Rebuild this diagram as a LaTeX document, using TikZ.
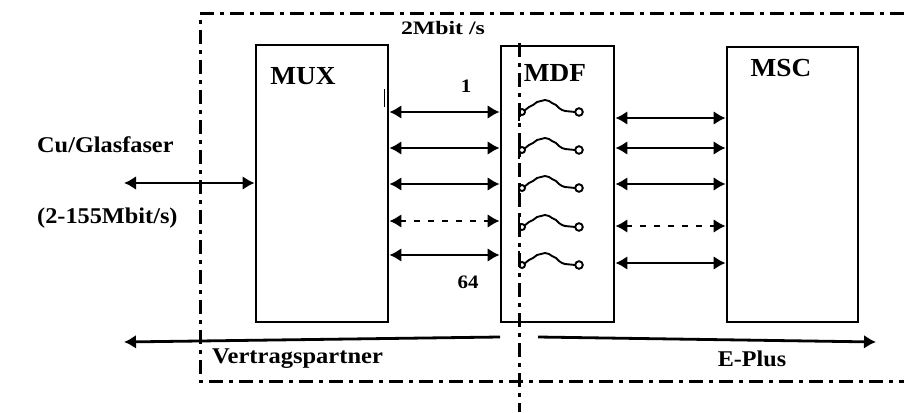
\documentclass[tikz,border=0pt]{standalone}
\usepackage{fontspec}
\setmainfont{Liberation Serif}
\usetikzlibrary{arrows.meta}
\newcommand\wide[2]{\scalebox{#1}[1]{#2}}
\tikzset{
  box/.style={draw, line width=2.8pt, rectangle, inner sep=0pt},
  title/.style={font=\fontsize{26}{28}\selectfont\bfseries, inner sep=0pt},
  lbl/.style={font=\fontsize{22.5}{24}\selectfont\bfseries, inner sep=0pt},
  small/.style={font=\fontsize{19}{21}\selectfont\bfseries, inner sep=0pt},
  dbl/.style={line width=2.8pt, {Latex[length=12pt,width=14pt]}-{Latex[length=12pt,width=14pt]}},
  dbldash/.style={dbl, dash pattern=on 6pt off 8pt},
  frame/.style={line width=3pt, dash pattern=on 14pt off 6pt on 4pt off 6pt},
  sw/.style={line width=1.9pt},
}
\begin{document}
\begin{tikzpicture}[x=1pt,y=-1pt]
\useasboundingbox (0,0) rectangle (904,412);
% frame
\draw[frame] (904,14) -- (200,14) -- (200,381) -- (904,381);
\draw[frame] (519,43) -- (519,412);
% boxes
\node[box, minimum width=132pt, minimum height=277pt] (mux) at (322,183.5) {};
\node[box, minimum width=113pt, minimum height=276pt] (mdf) at (557.5,184) {};
\node[box, minimum width=131pt, minimum height=275pt] (msc) at (792.5,184.5) {};
\node[title] (tmux) at (303,76) {\wide{1.05}{MUX}};
\node[title] (tmdf) at (555,73) {\wide{1.05}{MDF}};
\node[title] (tmsc) at (781,68) {\wide{1.05}{MSC}};
% small tick
\draw[line width=1pt] (384,89) -- (384,107);
% labels
\node[small] (rate) at (443,28) {\wide{1.25}{2Mbit /s}};
\node[small] (one) at (466,86) {\wide{1.1}{1}};
\node[small] (sixtyfour) at (468,282) {\wide{1.1}{64}};
\node[lbl, anchor=west] (cu) at (37,145) {\wide{1.08}{Cu/Glasfaser}};
\node[lbl, anchor=west] (rng) at (37,218) {\wide{1.08}{(2-155Mbit/s)}};
\node[lbl, anchor=west] (vp) at (212,359) {\wide{1.09}{Vertragspartner}};
\node[lbl] (ep) at (752,359) {\wide{1.07}{E-Plus}};
% left link
\coordinate (lin) at (124,183);
\draw[dbl] (lin) -- (mux.west |- lin);
% MUX - MDF
\foreach \y/\s in {112/dbl,148/dbl,184/dbl,221/dbldash,255/dbl}
  \draw[\s] (mux.east |- 0,\y) -- (mdf.west |- 0,\y);
% MDF - MSC
\foreach \y/\s in {118/dbl,148/dbl,184/dbl,226/dbldash,263/dbl}
  \draw[\s] (mdf.east |- 0,\y) -- (msc.west |- 0,\y);
% switches
\foreach \y/\k in {112/p,150/p,188/p,227/b,265/b}{
  \draw[sw] (522,\y) circle (3pt);
  \draw[sw] (579,\y) circle (3.8pt);
  \draw[sw] (524,\y-1) -- (529,\y-5) -- (533,\y-7) -- (537,\y-10) -- (541,\y-11) -- (545,\y-12)
     -- (549,\y-11) -- (552,\y-9) -- (556,\y-7) -- (559,\y-4) -- (562,\y-2) -- (565,\y-1) -- (575.2,\y);
}
\foreach \y in {112,150,188} \draw[sw] (519,\y-4) -- (519,\y+9);
\foreach \y in {227,265} \draw[sw] (519,\y-14) -- (519,\y);
% bottom arrows
\coordinate (bl) at (124,342);
\coordinate (blm) at (500,337);
\coordinate (brm) at (538,337);
\coordinate (br) at (876,342);
\draw[line width=2.8pt, {Latex[length=12pt,width=14pt]}-] (bl) -- (blm);
\draw[line width=2.8pt, -{Latex[length=12pt,width=14pt]}] (brm) -- (br);
\end{tikzpicture}
\end{document}
